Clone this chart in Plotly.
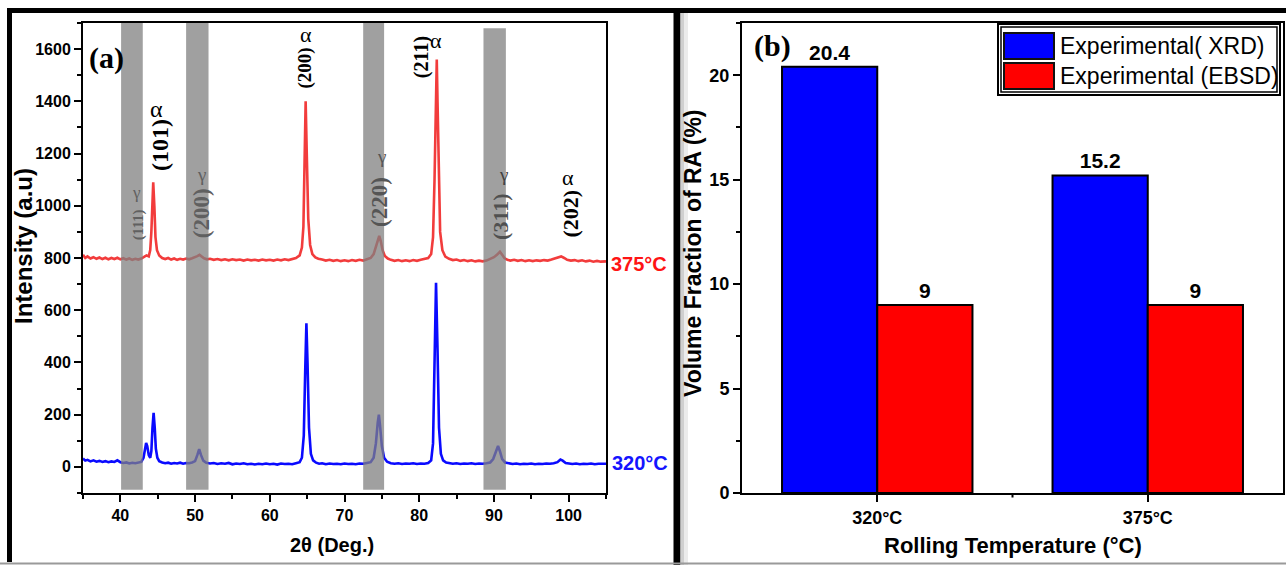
import plotly.graph_objects as go

# ---------------- data: panel (a) XRD patterns ----------------
two_theta_320 = [35.0, 35.3, 35.6, 36.0, 36.4, 36.8, 37.2, 37.6, 38.0, 38.4, 38.8, 39.2, 39.6, 40.0, 40.4, 40.8,
                 41.2, 41.6, 42.0, 42.4, 42.8, 43.1, 43.3, 43.45, 43.6, 43.8, 44.0, 44.15, 44.3, 44.45, 44.6, 44.75,
                 44.95, 45.2, 45.6, 46.0, 46.4, 46.8, 47.2, 47.6, 48.0, 48.4, 48.8, 49.2, 49.6, 50.0, 50.3, 50.55,
                 50.8, 51.1, 51.5, 52.0, 52.5, 53.0, 53.5, 54.0, 54.5, 55.0, 55.5, 56.0, 56.5, 57.0, 57.5, 58.0,
                 58.5, 59.0, 59.5, 60.0, 60.5, 61.0, 61.5, 62.0, 62.5, 63.0, 63.5, 64.0, 64.3, 64.55, 64.75, 64.9,
                 65.05, 65.25, 65.5, 65.8, 66.2, 66.6, 67.0, 67.5, 68.0, 68.5, 69.0, 69.5, 70.0, 70.5, 71.0, 71.5,
                 72.0, 72.5, 73.0, 73.5, 73.9, 74.2, 74.45, 74.6, 74.75, 75.0, 75.3, 75.7, 76.2, 76.7, 77.2, 77.7,
                 78.2, 78.7, 79.2, 79.7, 80.2, 80.7, 81.2, 81.6, 81.85, 82.05, 82.25, 82.45, 82.65, 82.9, 83.2, 83.6,
                 84.0, 84.5, 85.0, 85.5, 86.0, 86.5, 87.0, 87.5, 88.0, 88.5, 89.0, 89.5, 89.9, 90.25, 90.55, 90.8,
                 91.1, 91.5, 92.0, 92.5, 93.0, 93.5, 94.0, 94.5, 95.0, 95.5, 96.0, 96.5, 97.0, 97.5, 98.0, 98.5,
                 98.9, 99.2, 99.6, 100.0, 100.5, 101.0, 101.5, 102.0, 102.5, 103.0, 103.5, 104.0, 104.5, 105.0]
intensity_320 = [32, 24, 27, 21, 25, 20, 23, 19, 22, 18, 21, 19, 25, 18, 15, 17,
                 13, 16, 14, 17, 19, 35, 70, 92, 80, 45, 35, 60, 150, 207, 150, 70,
                 35, 22, 17, 14, 16, 12, 15, 13, 16, 12, 15, 14, 17, 22, 45, 68,
                 45, 24, 16, 13, 15, 11, 14, 12, 15, 10, 13, 11, 14, 10, 12, 9,
                 12, 10, 13, 10, 12, 9, 13, 11, 12, 10, 14, 18, 35, 120, 380, 550,
                 400, 150, 50, 25, 16, 12, 14, 10, 13, 11, 12, 10, 13, 11, 12, 10,
                 13, 12, 15, 18, 35, 90, 170, 200, 160, 80, 35, 20, 14, 12, 14, 11,
                 13, 12, 14, 11, 13, 12, 15, 25, 90, 350, 705, 450, 150, 50, 25, 17,
                 14, 12, 14, 11, 13, 12, 14, 11, 13, 12, 14, 17, 30, 60, 80, 60,
                 30, 17, 13, 11, 13, 10, 12, 11, 13, 10, 12, 11, 13, 12, 14, 18,
                 28, 24, 15, 13, 11, 13, 10, 12, 11, 13, 10, 12, 11, 12]

two_theta_375 = [35.0, 35.3, 35.6, 36.0, 36.4, 36.8, 37.2, 37.6, 38.0, 38.4, 38.8, 39.2, 39.6, 40.0, 40.4, 40.8,
                 41.2, 41.6, 42.0, 42.4, 42.8, 43.2, 43.5, 43.8, 44.0, 44.15, 44.3, 44.4, 44.55, 44.7, 44.9, 45.2,
                 45.6, 46.0, 46.4, 46.8, 47.2, 47.6, 48.0, 48.4, 48.8, 49.2, 49.6, 50.0, 50.3, 50.6, 50.9, 51.2,
                 51.6, 52.0, 52.5, 53.0, 53.5, 54.0, 54.5, 55.0, 55.5, 56.0, 56.5, 57.0, 57.5, 58.0, 58.5, 59.0,
                 59.5, 60.0, 60.5, 61.0, 61.5, 62.0, 62.5, 63.0, 63.5, 64.0, 64.3, 64.5, 64.65, 64.8, 64.95, 65.15,
                 65.4, 65.7, 66.1, 66.5, 67.0, 67.5, 68.0, 68.5, 69.0, 69.5, 70.0, 70.5, 71.0, 71.5, 72.0, 72.5,
                 73.0, 73.5, 73.9, 74.2, 74.45, 74.65, 74.85, 75.1, 75.4, 75.8, 76.2, 76.7, 77.2, 77.7, 78.2, 78.7,
                 79.2, 79.7, 80.2, 80.7, 81.2, 81.6, 81.85, 82.05, 82.25, 82.35, 82.45, 82.6, 82.8, 83.1, 83.5, 84.0,
                 84.5, 85.0, 85.5, 86.0, 86.5, 87.0, 87.5, 88.0, 88.5, 89.0, 89.5, 90.0, 90.4, 90.8, 91.1, 91.4,
                 91.8, 92.2, 92.7, 93.2, 93.7, 94.2, 94.7, 95.2, 95.7, 96.2, 96.7, 97.2, 97.7, 98.2, 98.6, 99.0,
                 99.4, 99.8, 100.3, 100.8, 101.3, 101.8, 102.3, 102.8, 103.3, 103.8, 104.3, 104.8, 105.0]
intensity_375 = [812, 800, 806, 798, 803, 797, 802, 796, 801, 795, 800, 796, 801, 795, 799, 794,
                 798, 793, 797, 794, 798, 805, 810, 806, 830, 900, 1020, 1090, 1000, 880, 830, 810,
                 800, 796, 800, 794, 798, 793, 797, 794, 798, 795, 799, 802, 807, 812, 806, 799,
                 795, 797, 793, 796, 792, 795, 791, 795, 792, 794, 790, 794, 791, 793, 790, 794,
                 791, 793, 790, 794, 791, 795, 792, 796, 800, 810, 840, 920, 1150, 1400, 1200, 950,
                 850, 815, 802, 797, 794, 790, 793, 789, 792, 788, 791, 788, 792, 789, 793, 790,
                 795, 800, 815, 845, 875, 885, 865, 830, 808, 798, 793, 789, 792, 788, 791, 788,
                 792, 789, 793, 796, 800, 815, 880, 1100, 1380, 1560, 1400, 1100, 900, 830, 805, 797,
                 792, 794, 789, 792, 788, 791, 787, 790, 787, 790, 795, 803, 812, 824, 812, 800,
                 793, 790, 793, 789, 792, 788, 791, 788, 791, 789, 792, 790, 794, 798, 803, 806,
                 800, 793, 790, 792, 788, 791, 787, 790, 786, 789, 786, 788, 787]

band_start = [40.1, 48.8, 72.5, 88.6]
band_end = [43.0, 51.8, 75.3, 91.6]
band_top = [1700, 1700, 1700, 1680]

# peak labels: text, 2theta, intensity, size, colour, rotated
peak_text = ["(111)", "γ", "(101)", "α", "(200)", "γ", "(200)", "α", "(220)", "γ", "(211)", "α", "(311)", "γ", "(202)", "α"]
peak_x = [42.45, 42.2, 45.3, 44.9, 50.9, 50.8, 64.7, 64.9, 74.7, 74.9, 80.3, 82.3, 90.9, 91.3, 100.2, 99.9]
peak_y = [928, 1052, 1233, 1371, 971, 1121, 1529, 1656, 1013, 1190, 1571, 1633, 956, 1121, 971, 1110]
peak_size = [15, 17, 24, 24, 23, 19, 19, 22, 23, 19, 20, 22, 22, 19, 22, 22]
peak_color = ["#606060", "#606060", "#000000", "#000000", "#606060", "#606060", "#000000", "#000000",
              "#555555", "#555555", "#000000", "#000000", "#505050", "#404040", "#000000", "#000000"]
peak_rot = [True, False, True, False, True, False, True, False, True, False, True, False, True, False, True, False]

# ---------------- data: panel (b) retained austenite ----------------
categories = ["320°C", "375°C"]
xrd = [20.4, 15.2]
ebsd = [9, 9]

W, H = 1286, 565


def px(x):
    return x / W


def py(y):
    return 1 - y / H


SANS = "Arial, Liberation Sans, sans-serif"
SERIF = "Times New Roman, Liberation Serif, serif"

fig = go.Figure()

fig.add_trace(go.Scatter(x=two_theta_320, y=intensity_320, mode="lines",
                         line=dict(color="#0a0aff", width=2.6), xaxis="x", yaxis="y",
                         name="320°C", showlegend=False))
fig.add_trace(go.Scatter(x=two_theta_375, y=intensity_375, mode="lines",
                         line=dict(color="#f23c3c", width=2.6), xaxis="x", yaxis="y",
                         name="375°C", showlegend=False))

fig.add_trace(go.Bar(x=categories, y=xrd, name="Experimental( XRD)",
                     marker=dict(color="#0000ff", line=dict(color="black", width=2)),
                     text=[f"{v:g}" for v in xrd], textposition="outside", cliponaxis=False,
                     textfont=dict(family=SANS, size=21, color="black", weight="bold"),
                     xaxis="x2", yaxis="y2", showlegend=False))
fig.add_trace(go.Bar(x=categories, y=ebsd, name="Experimental (EBSD)",
                     marker=dict(color="#ff0000", line=dict(color="black", width=2)),
                     text=[f"{v:g}" for v in ebsd], textposition="outside", cliponaxis=False,
                     textfont=dict(family=SANS, size=21, color="black", weight="bold"),
                     xaxis="x2", yaxis="y2", showlegend=False))

axis_common = dict(showline=True, linecolor="black", linewidth=2, mirror=True, automargin=False,
                   ticks="outside", ticklen=7, tickwidth=2, tickcolor="black",
                   showgrid=False, zeroline=False,
                   tickfont=dict(family=SANS, size=16, color="black", weight="bold"))

shapes = []
for s, e, t in zip(band_start, band_end, band_top):
    shapes.append(dict(type="rect", xref="x", yref="y", x0=s, x1=e, y0=-88, y1=t,
                       fillcolor="rgba(128,128,128,0.75)", line=dict(width=0), layer="above"))

# outer frame of the composite figure
shapes += [
    dict(type="line", xref="paper", yref="paper", x0=px(7), x1=1, y0=py(10.5), y1=py(10.5),
         line=dict(color="black", width=5)),
    dict(type="line", xref="paper", yref="paper", x0=px(9.5), x1=px(9.5), y0=py(8), y1=py(562),
         line=dict(color="black", width=5)),
    dict(type="line", xref="paper", yref="paper", x0=px(677), x1=px(677), y0=py(8), y1=0,
         line=dict(color="black", width=7)),
    dict(type="rect", xref="paper", yref="paper", x0=px(680.5), x1=px(684), y0=py(13), y1=0,
         fillcolor="#cfcfcf", line=dict(width=0)),
    dict(type="rect", xref="paper", yref="paper", x0=px(684), x1=px(688), y0=py(13), y1=0,
         fillcolor="#ebebeb", line=dict(width=0)),
    dict(type="line", xref="paper", yref="paper", x0=0, x1=1, y0=py(563.5), y1=py(563.5),
         line=dict(color="#9a9a9a", width=2)),
    # minor tick between the two temperature groups on panel (b)
    dict(type="line", xref="x2", yref="paper", x0=0.5, x1=0.5, y0=py(493), y1=py(497.5),
         line=dict(color="black", width=2)),
]

# hand-drawn legend for panel (b) (large swatches as in the original)
shapes += [
    dict(type="rect", xref="paper", yref="paper", x0=px(998), x1=px(1280), y0=py(24), y1=py(95),
         line=dict(color="black", width=2), fillcolor="white"),
    dict(type="rect", xref="paper", yref="paper", x0=px(1001), x1=px(1277), y0=py(27), y1=py(92),
         line=dict(color="black", width=1.5)),
    dict(type="rect", xref="paper", yref="paper", x0=px(1004), x1=px(1054), y0=py(33), y1=py(59),
         line=dict(color="#111111", width=2), fillcolor="#0000ff"),
    dict(type="rect", xref="paper", yref="paper", x0=px(1004), x1=px(1054), y0=py(63), y1=py(89),
         line=dict(color="#111111", width=2), fillcolor="#ff0000"),
]

ann = []
for t, x, y, s, c, r in zip(peak_text, peak_x, peak_y, peak_size, peak_color, peak_rot):
    ann.append(dict(text=t, x=x, y=y, xref="x", yref="y", showarrow=False, textangle=-90 if r else 0,
                    xanchor="center", yanchor="middle",
                    font=dict(family=SERIF, size=s, color=c, weight="bold" if t.startswith("(") else "normal")))


def pann(text, x, y, size, color="black", family=SANS, weight="bold", angle=0, xanchor="center"):
    return dict(text=text, x=px(x), y=py(y), xref="paper", yref="paper", showarrow=False,
                textangle=angle, xanchor=xanchor, yanchor="middle",
                font=dict(family=family, size=size, color=color, weight=weight))


ann += [
    pann("(a)", 106, 58, 30, family=SERIF),
    pann("(b)", 772, 46, 30, family=SERIF),
    pann("375°C", 639, 264, 20, color="#ff1414"),
    pann("320°C", 640, 463, 20, color="#1414ff"),
    pann("Intensity (a.u)", 24, 246, 24, angle=-90),
    pann("2θ (Deg.)", 332, 545, 20),
    pann("Volume Fraction of RA (%)", 693, 253, 23, angle=-90),
    pann("Rolling Temperature (°C)", 1013, 545, 22),
    pann("Experimental( XRD)", 1058, 46, 23, weight="normal", xanchor="left"),
    pann("Experimental (EBSD)", 1058, 76, 23, weight="normal", xanchor="left"),
]

fig.update_layout(
    width=W, height=H, margin=dict(l=0, r=0, t=0, b=0, pad=0), autosize=False,
    paper_bgcolor="white", plot_bgcolor="white",
    barmode="group", bargap=0.296, bargroupgap=0,
    xaxis=dict(domain=[px(83), px(606)], range=[35, 105], anchor="y", tick0=0, dtick=10,
               minor=dict(dtick=5, ticks="outside", ticklen=4, tickwidth=2, tickcolor="black"),
               **axis_common),
    yaxis=dict(domain=[py(493), py(23)], range=[-100, 1700], anchor="x", tick0=0, dtick=200,
               minor=dict(dtick=100, ticks="outside", ticklen=4, tickwidth=2, tickcolor="black"),
               **axis_common),
    xaxis2=dict(domain=[px(742), px(1283)], range=[-0.5, 1.5], anchor="y2", type="category",
                **{**axis_common, "tickfont": dict(family=SANS, size=18, color="black", weight="bold")}),
    yaxis2=dict(domain=[py(493), py(23)], range=[0, 22.5], anchor="x2", tick0=0, dtick=5,
                minor=dict(dtick=2.5, ticks="outside", ticklen=4, tickwidth=2, tickcolor="black"),
                **{**axis_common, "tickfont": dict(family=SANS, size=18, color="black", weight="bold")}),
    shapes=shapes, annotations=ann,
)

# no page margin, no scrollbars
post = (
    "document.documentElement.style.margin='0';"
    "document.documentElement.style.overflow='hidden';"
    "document.body.style.margin='0';"
    "document.body.style.overflow='hidden';"
)

fig.write_html("out.html", config={"displayModeBar": False}, post_script=post)
